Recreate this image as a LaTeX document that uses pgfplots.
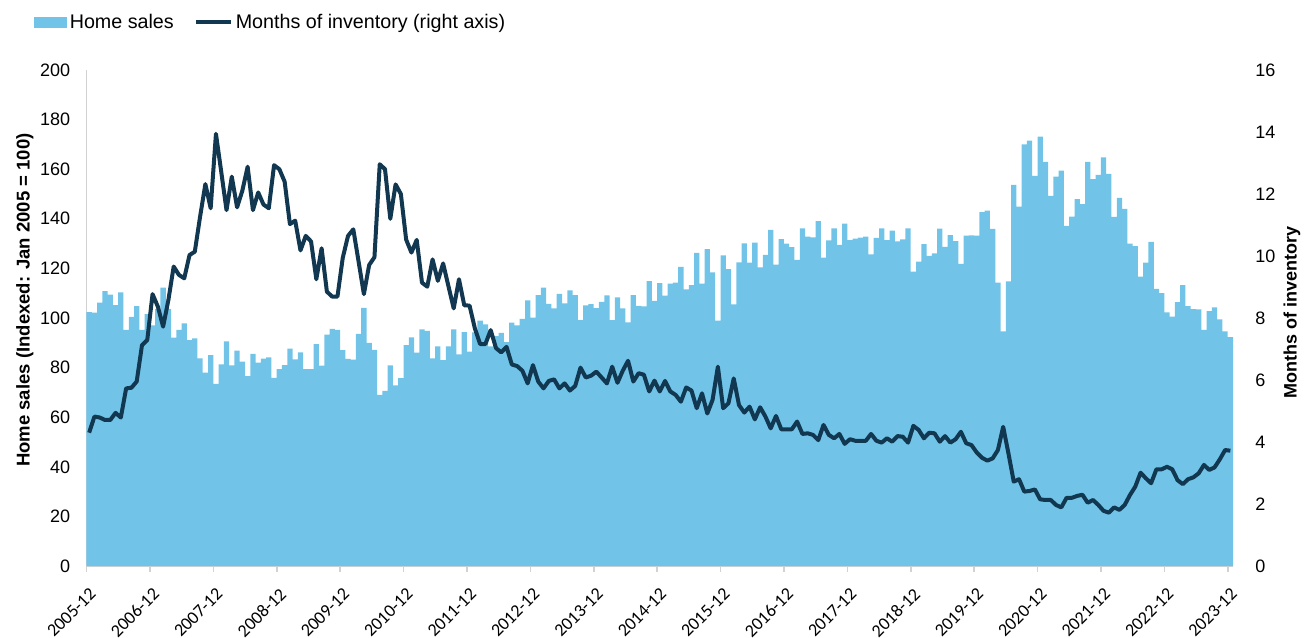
\documentclass[border=0pt]{standalone}
\usepackage{fontspec}
\setmainfont{Liberation Sans}
\newfontfamily\carlito{Carlito}
\usepackage{pgfplots}
\usepackage{pgfplotstable}
\pgfplotsset{compat=1.18}

\definecolor{barblue}{RGB}{113,196,232}
\definecolor{linecol}{RGB}{17,56,80}
\definecolor{axgray}{RGB}{210,210,210}

% i = month index from 2005-12, s = home sales index, m = months of inventory
\pgfplotstableread{
i s m
0 102.4 4.30
1 102.2 4.82
2 106.2 4.79
3 110.8 4.71
4 109.4 4.71
5 105.2 4.94
6 110.3 4.79
7 95.2 5.73
8 100.5 5.75
9 104.8 5.95
10 95.2 7.12
11 101.6 7.29
12 97.0 8.77
13 103.6 8.37
14 112.2 7.72
15 103.6 8.58
16 92.1 9.66
17 95.2 9.39
18 97.8 9.28
19 91.1 10.03
20 91.8 10.14
21 83.7 11.27
22 78.0 12.32
23 85.0 11.54
24 73.4 13.94
25 81.3 12.72
26 90.6 11.48
27 80.9 12.56
28 86.8 11.57
29 82.4 12.11
30 76.6 12.88
31 85.5 11.48
32 82.0 12.05
33 83.6 11.66
34 84.1 11.54
35 75.9 12.93
36 79.4 12.80
37 81.0 12.40
38 87.7 11.03
39 83.3 11.14
40 86.1 10.18
41 79.4 10.65
42 79.4 10.47
43 89.5 9.25
44 80.8 10.25
45 93.3 8.85
46 95.6 8.69
47 95.2 8.69
48 87.0 9.94
49 83.5 10.65
50 83.2 10.86
51 93.6 9.82
52 104.1 8.77
53 90.0 9.71
54 87.1 9.96
55 69.0 12.96
56 70.6 12.80
57 80.9 11.20
58 72.8 12.31
59 75.8 12.00
60 89.1 10.53
61 92.2 10.11
62 86.0 10.52
63 95.4 9.14
64 94.8 9.01
65 83.7 9.89
66 88.6 9.20
67 83.0 9.76
68 88.6 9.03
69 95.4 8.31
70 85.3 9.25
71 94.3 8.41
72 86.4 8.40
73 94.2 7.67
74 98.9 7.16
75 97.4 7.16
76 88.6 7.61
77 92.7 7.03
78 94.0 6.89
79 90.3 7.07
80 98.1 6.50
81 97.0 6.45
82 99.6 6.30
83 107.1 5.89
84 100.2 6.48
85 109.2 5.95
86 112.2 5.73
87 105.7 5.97
88 103.9 6.02
89 109.7 5.73
90 105.9 5.89
91 111.1 5.66
92 109.2 5.81
93 99.1 6.40
94 105.1 6.08
95 105.6 6.14
96 104.0 6.27
97 106.5 6.08
98 109.1 5.89
99 99.1 6.43
100 108.3 5.91
101 103.9 6.30
102 98.2 6.62
103 109.2 5.95
104 104.9 6.22
105 104.7 6.17
106 114.9 5.63
107 106.9 5.98
108 114.1 5.63
109 109.0 5.97
110 113.9 5.63
111 114.3 5.52
112 120.6 5.30
113 111.5 5.76
114 113.3 5.66
115 126.3 5.09
116 113.9 5.57
117 127.8 4.92
118 118.4 5.36
119 98.9 6.43
120 125.3 5.09
121 119.7 5.25
122 105.5 6.05
123 122.4 5.19
124 130.1 4.95
125 122.3 5.14
126 130.4 4.73
127 120.4 5.12
128 125.5 4.82
129 135.5 4.44
130 121.5 4.84
131 131.8 4.41
132 130.0 4.41
133 128.6 4.41
134 123.4 4.66
135 136.1 4.26
136 132.8 4.28
137 132.5 4.23
138 139.1 4.06
139 124.3 4.55
140 131.3 4.23
141 136.1 4.12
142 129.5 4.26
143 138.1 3.94
144 131.4 4.09
145 132.0 4.04
146 132.4 4.04
147 132.8 4.04
148 125.7 4.26
149 132.3 4.04
150 136.1 3.98
151 131.4 4.12
152 135.2 4.01
153 130.9 4.19
154 131.7 4.17
155 136.1 3.98
156 118.7 4.52
157 122.7 4.39
158 129.8 4.12
159 125.1 4.30
160 126.1 4.28
161 136.0 4.01
162 128.7 4.19
163 133.4 3.98
164 131.0 4.09
165 121.8 4.33
166 133.2 3.96
167 133.3 3.90
168 133.2 3.66
169 142.7 3.49
170 143.3 3.40
171 135.9 3.47
172 114.3 3.74
173 94.6 4.49
174 114.8 3.63
175 153.7 2.72
176 144.9 2.80
177 170.0 2.40
178 171.5 2.42
179 157.3 2.47
180 173.1 2.15
181 163.0 2.13
182 149.2 2.13
183 157.0 1.97
184 159.4 1.89
185 137.1 2.20
186 140.9 2.20
187 147.9 2.26
188 145.9 2.30
189 163.0 2.04
190 156.0 2.13
191 157.7 1.97
192 164.8 1.78
193 158.1 1.72
194 140.8 1.89
195 148.4 1.81
196 144.0 1.97
197 130.0 2.29
198 129.0 2.56
199 116.7 3.01
200 122.3 2.83
201 130.7 2.67
202 111.7 3.12
203 110.0 3.12
204 102.3 3.20
205 100.6 3.12
206 106.4 2.77
207 113.3 2.64
208 104.8 2.80
209 103.6 2.86
210 103.5 2.99
211 95.2 3.26
212 102.8 3.10
213 104.3 3.18
214 99.4 3.44
215 94.6 3.74
216 92.3 3.72
}\data

\begin{document}
\begin{tikzpicture}
% left axis: home sales bars
\begin{axis}[
    width=573.25pt, height=248pt, scale only axis,
    xmin=-0.5, xmax=216.5, ymin=0, ymax=200,
    ytick={0,20,...,200},
    xtick={-0.5,11.5,...,215.5},
    xticklabels={2005-12,2006-12,2007-12,2008-12,2009-12,2010-12,2011-12,2012-12,2013-12,2014-12,2015-12,2016-12,2017-12,2018-12,2019-12,2020-12,2021-12,2022-12,2023-12},
    axis lines*=left,
    axis line style={axgray, line width=0.8pt, -},
    tick align=outside, major tick length=3pt,
    xtick style={axgray, line width=0.8pt},
    ytick style={draw=none},
    /pgf/number format/assume math mode=true,
    y tick label style={font=\fontsize{9}{10}\selectfont, inner sep=0pt, xshift=-5pt},
    x tick label style={font=\carlito\fontsize{9}{10}\selectfont, xshift=3.25pt, yshift=-9.5pt, rotate=45, anchor=east, inner sep=0pt},
    ylabel={Home sales (Indexed: Jan 2005 = 100)},
    ylabel style={font=\bfseries\fontsize{9.25}{11}\selectfont, at={(axis description cs:-0.0537,0.536)}, anchor=center},
]
\addplot[ybar, bar width=1, bar shift=0, fill=barblue, draw=none] table[x=i, y=s] {\data};
\coordinate (bl) at (rel axis cs:0,0);
\coordinate (tr) at (rel axis cs:1,1);
\end{axis}
% right axis: months of inventory line
\begin{axis}[
    width=573.25pt, height=248pt, scale only axis,
    xmin=-0.5, xmax=216.5, ymin=0, ymax=16,
    ytick={0,2,...,16},
    axis y line*=right, axis x line=none,
    y axis line style={draw=none},
    major tick length=0pt,
    ytick style={draw=none},
    /pgf/number format/assume math mode=true,
    y tick label style={font=\fontsize{9}{10}\selectfont, anchor=west, inner sep=0pt, xshift=11pt},
    ylabel={Months of inventory},
    ylabel style={font=\bfseries\fontsize{9}{11}\selectfont, at={(axis description cs:1.0515,0.512)}, anchor=center},
    legend style={draw=none, fill=none, at={(-0.0458,1.0958)}, anchor=west,
        inner sep=0pt, outer sep=0pt, font=\fontsize{9.85}{11}\selectfont,
        nodes={inner sep=0pt},
        /tikz/every odd column/.append style={column sep=1.5pt},
        /tikz/every even column/.append style={column sep=10pt}},
    legend columns=-1,
    legend cell align=left,
    legend image code/.code={\draw[#1] (0pt,0pt) -- (17.5pt,0pt);},
]
\addlegendimage{legend image code/.code={\fill[barblue] (0pt,-2.6pt) rectangle (16pt,2.6pt);}}
\addlegendentry{Home sales}
\addplot[linecol, line width=2pt, line join=round] table[x=i, y=m] {\data};
\addlegendentry{Months of inventory (right axis)}
\end{axis}
\pgfresetboundingbox
\path[use as bounding box] ([shift={(-43.25pt,-35.5pt)}]bl) rectangle ([shift={(38.5pt,35pt)}]tr);
\end{tikzpicture}
\end{document}
